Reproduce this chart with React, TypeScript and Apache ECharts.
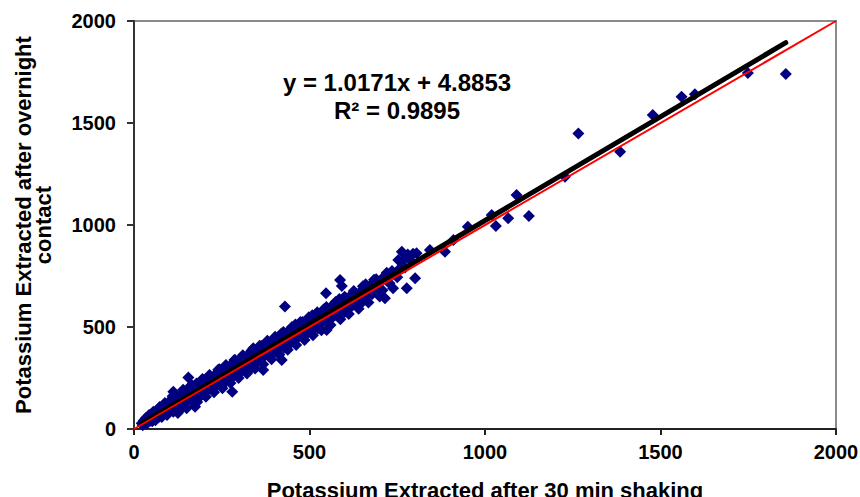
import React, { useEffect, useRef } from "react";
import * as echarts from "echarts";

const xTicks = [0, 500, 1000, 1500, 2000];
const yTicks = [0, 500, 1000, 1500, 2000];

const bandLow: [number, number][] = [
  [22, 28], [25, 18], [28, 42], [31, 29], [34, 54], [37, 27], [40, 48], [43, 69], [46, 40], [49, 64],
  [52, 38], [55, 85], [58, 61], [61, 43], [64, 86], [67, 75], [70, 58], [73, 108], [76, 88], [79, 59],
  [82, 100], [85, 81], [88, 128], [91, 97], [94, 69], [97, 122], [100, 102], [103, 88], [106, 144], [109, 123],
  [112, 84], [115, 135], [118, 112], [121, 165], [124, 134], [127, 107], [130, 160], [133, 131], [136, 152], [139, 107],
  [142, 184], [145, 150], [148, 134], [151, 177], [154, 146], [157, 205], [160, 172], [163, 139], [166, 200], [169, 169],
  [172, 156], [175, 197], [178, 223], [181, 171], [184, 198], [187, 157], [190, 222], [193, 197], [196, 178], [199, 239],
];

const bandMid: [number, number][] = [
  [203, 211], [206, 184], [210, 238], [213, 208], [216, 262], [220, 234], [223, 195], [226, 246], [230, 220], [233, 269],
  [236, 238], [240, 220], [243, 293], [246, 262], [250, 242], [253, 283], [256, 222], [260, 270], [263, 305], [266, 252],
  [270, 294], [273, 271], [276, 314], [280, 254], [283, 295], [286, 338], [290, 284], [293, 313], [296, 266], [300, 334],
  [303, 307], [306, 290], [310, 356], [313, 327], [316, 292], [320, 346], [323, 315], [326, 366], [330, 336], [333, 297],
  [336, 358], [340, 396], [343, 331], [346, 362], [350, 330], [353, 389], [356, 358], [360, 332], [363, 407], [366, 376],
  [370, 356], [373, 403], [376, 372], [380, 430], [383, 401], [386, 356], [390, 414], [393, 383], [396, 436], [400, 408],
];

const bandHigh: [number, number][] = [
  [404, 382], [408, 440], [412, 414], [416, 400], [420, 468], [424, 438], [428, 398], [432, 454], [436, 430], [440, 480],
  [444, 454], [448, 424], [452, 482], [456, 454], [460, 512], [464, 480], [468, 450], [472, 500], [476, 468], [480, 524],
  [484, 490], [488, 460], [492, 512], [496, 534], [500, 488], [504, 518], [508, 558], [512, 492], [516, 542], [520, 524],
  [524, 494], [528, 564], [532, 542], [536, 522], [540, 586], [545, 563], [550, 542], [555, 585], [560, 538], [565, 605],
  [570, 576], [575, 559], [580, 604], [585, 637], [590, 586], [595, 611], [600, 574],
];

const bandTop: [number, number][] = [
  [606, 640], [612, 618], [618, 598], [624, 666], [630, 642], [636, 624], [642, 668], [648, 618], [654, 672], [660, 710],
  [666, 660], [672, 702], [678, 660], [684, 696], [690, 734], [696, 686], [702, 722], [708, 680], [714, 750], [720, 728],
  [728, 714], [735, 775], [742, 758], [750, 744], [758, 788], [765, 825], [772, 792], [780, 856], [788, 826], [795, 859],
];

const bandEdges: [number, number][] = [
  [110, 160], [125, 78], [140, 192], [150, 102], [165, 215], [180, 132], [195, 245], [205, 158], [215, 265], [228, 180],
  [240, 290], [252, 200], [262, 314], [275, 226], [288, 338], [298, 250], [310, 362], [322, 272], [335, 385], [345, 296],
  [358, 408], [368, 318], [380, 432], [392, 342], [402, 452], [414, 364], [426, 476], [438, 388], [450, 500], [462, 412],
  [474, 524], [486, 436], [498, 548], [510, 460], [522, 572], [534, 484], [548, 598], [560, 510], [574, 622], [588, 538],
  [600, 648], [612, 564], [626, 676], [640, 590], [652, 700], [668, 620], [684, 732], [700, 650], [720, 766], [738, 690],
];

const outliers: [number, number][] = [
  [155, 253], [112, 183], [174, 109], [280, 183], [368, 289], [421, 338], [430, 600], [547, 665], [549, 485],
  [587, 730], [592, 701], [658, 647], [715, 641], [777, 690], [801, 739], [753, 828], [763, 869], [805, 861],
  [843, 877], [886, 869], [910, 926], [951, 992], [1019, 1049], [1031, 995], [1066, 1033], [1090, 1147],
  [1125, 1044], [1228, 1237], [1266, 1449], [1385, 1359], [1478, 1539], [1560, 1629], [1598, 1641],
  [1749, 1745], [1857, 1740],
];

const trendSlope = 1.0171;
const trendIntercept = 4.8853;
const trendRange = [22, 1857];
const identityLine: [number, number][] = [[0, 0], [2000, 2000]];

const FONT = "'Liberation Sans', Arial, sans-serif";

export default function App() {
  const ref = useRef<HTMLDivElement>(null);
  useEffect(() => {
    if (!ref.current) return;
    const chart = echarts.init(ref.current, undefined, { renderer: "svg" });
    const trend = trendRange.map((x) => [x, trendSlope * x + trendIntercept]);
    const points = [...bandLow, ...bandMid, ...bandHigh, ...bandTop, ...bandEdges, ...outliers];
    chart.setOption({
      animation: false,
      backgroundColor: "#ffffff",
      grid: {
        left: 134,
        right: 24,
        top: 21,
        bottom: 68,
        containLabel: false,
        outerBoundsMode: "none",
        show: true,
        borderColor: "#8a8a8a",
        borderWidth: 2,
        backgroundColor: "#ffffff",
      },
      xAxis: {
        type: "value",
        min: xTicks[0],
        max: xTicks[xTicks.length - 1],
        interval: 500,
        name: "Potassium Extracted after 30 min shaking",
        nameLocation: "middle",
        nameGap: 50,
        nameTextStyle: { fontFamily: FONT, fontWeight: "bold", fontSize: 22, color: "#000" },
        axisLine: { show: true, lineStyle: { color: "#222", width: 2 } },
        axisTick: { show: true, inside: false, length: 6, lineStyle: { color: "#222", width: 2 } },
        axisLabel: {
          margin: 13,
          fontFamily: FONT,
          fontWeight: "bold",
          fontSize: 20,
          color: "#000",
          formatter: (v: number) => String(v),
        },
        splitLine: { show: false },
      },
      yAxis: {
        type: "value",
        min: yTicks[0],
        max: yTicks[yTicks.length - 1],
        interval: 500,
        name: "Potassium Extracted after overnight\ncontact",
        nameLocation: "middle",
        nameGap: 81,
        nameTextStyle: { fontFamily: FONT, fontWeight: "bold", fontSize: 22, lineHeight: 20, color: "#000" },
        axisLine: { show: true, lineStyle: { color: "#333", width: 2 } },
        axisTick: { show: true, inside: false, length: 7, lineStyle: { color: "#333", width: 2 } },
        axisLabel: {
          margin: 18,
          fontFamily: FONT,
          fontWeight: "bold",
          fontSize: 20,
          color: "#000",
          formatter: (v: number) => String(v),
        },
        splitLine: { show: false },
      },
      graphic: [
        {
          type: "text",
          x: 397,
          y: 82,
          style: {
            text: "y = 1.0171x + 4.8853",
            fontFamily: FONT,
            fontWeight: "bold",
            fontSize: 24,
            fill: "#000",
            textAlign: "center",
            textVerticalAlign: "middle",
          },
          z: 100,
        },
        {
          type: "text",
          x: 397,
          y: 110,
          style: {
            text: "R² = 0.9895",
            fontFamily: FONT,
            fontWeight: "bold",
            fontSize: 24,
            fill: "#000",
            textAlign: "center",
            textVerticalAlign: "middle",
          },
          z: 100,
        },
      ],
      series: [
        {
          type: "scatter",
          data: points,
          symbol: "diamond",
          symbolSize: 12,
          itemStyle: { color: "#000080", opacity: 1 },
          z: 2,
        },
        {
          type: "line",
          data: trend,
          symbol: "none",
          lineStyle: { color: "#000000", width: 5, cap: "round" },
          z: 3,
        },
        {
          type: "line",
          data: identityLine,
          symbol: "none",
          lineStyle: { color: "#ff0000", width: 2 },
          z: 4,
        },
      ],
    });
    return () => chart.dispose();
  }, []);
  return (
    <div
      ref={ref}
      style={{ position: "fixed", left: 0, top: 0, width: 860, height: 497, background: "#fff" }}
    />
  );
}
